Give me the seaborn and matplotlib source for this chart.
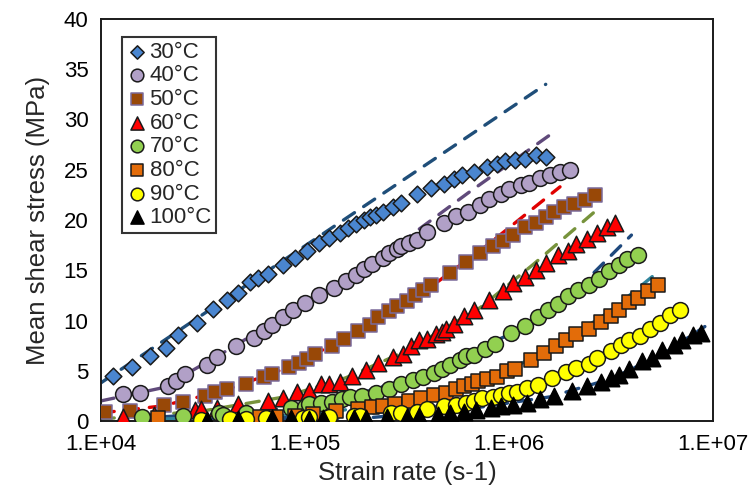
import numpy as np
import matplotlib
matplotlib.use("Agg")
import matplotlib.pyplot as plt
import seaborn as sns

# ======================================
# Data
# strain rate kept as log10 exponent (s-1), stress in MPa
# ======================================

labels = ["30°C", "40°C", "50°C", "60°C", "70°C", "80°C", "90°C", "100°C"]

log_rate_30 = [4.06, 4.15, 4.24, 4.32, 4.38, 4.47, 4.55, 4.62, 4.67, 4.73, 4.77, 4.82, 4.89,
               4.95, 5.01, 5.07, 5.12, 5.17, 5.21, 5.25, 5.29, 5.32, 5.35, 5.38, 5.43, 5.47,
               5.55, 5.62, 5.68, 5.73, 5.77, 5.83, 5.89, 5.94, 5.98, 6.03, 6.08, 6.13, 6.18]
stress_30 = [4.5, 5.4, 6.5, 7.3, 8.6, 9.8, 11.1, 12.0, 12.7, 13.8, 14.2, 14.6, 15.5,
             16.2, 16.9, 17.7, 18.2, 18.7, 19.2, 19.6, 20.0, 20.3, 20.5, 20.8, 21.3, 21.7,
             22.6, 23.2, 23.6, 24.1, 24.5, 24.8, 25.3, 25.6, 25.9, 26.0, 26.1, 26.5, 26.3]

log_rate_40 = [4.11, 4.19, 4.33, 4.37, 4.41, 4.52, 4.57, 4.66, 4.75, 4.80, 4.84, 4.89, 4.94,
               5.00, 5.07, 5.14, 5.20, 5.25, 5.29, 5.33, 5.38, 5.41, 5.45, 5.47, 5.51, 5.55,
               5.60, 5.68, 5.74, 5.80, 5.86, 5.90, 5.96, 6.00, 6.06, 6.10, 6.15, 6.20, 6.25, 6.30]
stress_40 = [2.7, 2.8, 3.5, 4.0, 4.7, 5.6, 6.4, 7.5, 8.3, 9.0, 9.6, 10.3, 11.0,
             11.7, 12.5, 13.2, 13.9, 14.5, 15.1, 15.6, 16.2, 16.7, 17.1, 17.4, 17.7, 18.0,
             18.8, 19.7, 20.4, 20.8, 21.5, 22.1, 22.6, 23.1, 23.5, 23.7, 24.2, 24.5, 24.8, 25.0]

log_rate_50 = [4.02, 4.14, 4.31, 4.40, 4.51, 4.56, 4.62, 4.71, 4.80, 4.84, 4.92, 4.97, 5.01,
               5.05, 5.13, 5.19, 5.26, 5.32, 5.36, 5.41, 5.45, 5.50, 5.54, 5.58, 5.62, 5.71,
               5.79, 5.86, 5.92, 5.97, 6.02, 6.08, 6.13, 6.18, 6.22, 6.27, 6.32, 6.37, 6.42]
stress_50 = [0.9, 1.0, 1.6, 1.9, 2.5, 2.9, 3.2, 3.7, 4.4, 4.7, 5.4, 5.8, 6.2,
             6.7, 7.5, 8.2, 9.0, 9.6, 10.3, 10.9, 11.4, 11.9, 12.5, 13.0, 13.5, 14.7,
             15.8, 16.7, 17.4, 17.9, 18.5, 19.3, 19.7, 20.3, 20.8, 21.3, 21.6, 22.0, 22.5]

log_rate_60 = [4.11, 4.26, 4.46, 4.49, 4.57, 4.67, 4.82, 4.89, 4.96, 5.02, 5.08, 5.12, 5.17,
               5.23, 5.30, 5.36, 5.43, 5.48, 5.52, 5.56, 5.60, 5.64, 5.67, 5.69, 5.73, 5.78,
               5.83, 5.90, 5.97, 6.02, 6.08, 6.13, 6.18, 6.24, 6.29, 6.33, 6.38, 6.43, 6.48, 6.52]
stress_60 = [0.4, 0.6, 1.1, 1.2, 1.3, 1.7, 2.0, 2.3, 2.9, 3.0, 3.7, 3.7, 3.9,
             4.5, 5.1, 5.8, 6.4, 6.7, 7.5, 8.1, 8.2, 8.7, 8.9, 9.2, 9.7, 10.4,
             11.0, 12.0, 12.9, 13.7, 14.3, 15.0, 15.7, 16.5, 16.9, 17.6, 18.1, 18.7, 19.3, 19.7]

log_rate_70 = [4.20, 4.40, 4.58, 4.60, 4.71, 4.93, 5.00, 5.02, 5.08, 5.13, 5.18, 5.22, 5.28,
               5.35, 5.41, 5.47, 5.53, 5.58, 5.63, 5.67, 5.71, 5.76, 5.79, 5.83, 5.88, 5.93,
               6.01, 6.08, 6.14, 6.19, 6.24, 6.29, 6.34, 6.39, 6.44, 6.49, 6.54, 6.58, 6.63]
stress_70 = [0.4, 0.5, 0.8, 0.6, 0.8, 1.3, 1.4, 1.7, 1.8, 1.9, 2.2, 2.4, 2.5,
             2.8, 3.2, 3.7, 4.1, 4.4, 4.8, 5.2, 5.6, 6.1, 6.5, 6.6, 7.2, 7.7,
             8.8, 9.5, 10.3, 11.0, 11.6, 12.4, 13.0, 13.5, 14.1, 14.9, 15.5, 16.1, 16.5]

log_rate_80 = [4.28, 4.78, 4.86, 4.95, 5.04, 5.15, 5.26, 5.33, 5.38, 5.44, 5.51, 5.57, 5.63,
               5.69, 5.74, 5.78, 5.82, 5.85, 5.89, 5.94, 5.99, 6.03, 6.11, 6.17, 6.23, 6.28,
               6.33, 6.39, 6.45, 6.50, 6.54, 6.59, 6.63, 6.68, 6.73]
stress_80 = [0.3, 0.4, 0.4, 0.5, 0.7, 1.0, 1.2, 1.4, 1.5, 1.7, 2.0, 2.3, 2.6,
             2.8, 3.2, 3.5, 3.7, 4.0, 4.2, 4.4, 5.0, 5.2, 6.1, 6.8, 7.5, 8.1,
             8.7, 9.2, 9.9, 10.4, 11.0, 11.8, 12.2, 12.9, 13.5]

log_rate_90 = [4.49, 4.63, 4.71, 4.81, 4.99, 5.02, 5.12, 5.24, 5.27, 5.42, 5.47, 5.55, 5.60,
               5.68, 5.74, 5.79, 5.83, 5.87, 5.92, 5.96, 6.00, 6.04, 6.09, 6.14, 6.21, 6.28,
               6.33, 6.39, 6.43, 6.50, 6.55, 6.59, 6.64, 6.69, 6.74, 6.79, 6.84]
stress_90 = [0.1, 0.2, 0.2, 0.3, 0.3, 0.4, 0.4, 0.5, 0.5, 0.8, 0.8, 0.9, 1.2,
             1.5, 1.6, 1.8, 2.0, 2.3, 2.4, 2.6, 2.8, 2.9, 3.3, 3.6, 4.3, 4.9,
             5.3, 5.7, 6.3, 7.0, 7.6, 8.1, 8.5, 9.2, 9.8, 10.5, 11.0]

log_rate_100 = [4.52, 4.67, 4.84, 4.93, 5.02, 5.09, 5.24, 5.30, 5.40, 5.50, 5.56, 5.65, 5.71,
                5.78, 5.84, 5.91, 5.96, 6.02, 6.09, 6.15, 6.22, 6.31, 6.38, 6.45, 6.50, 6.54,
                6.59, 6.65, 6.70, 6.75, 6.81, 6.85, 6.90, 6.94]
stress_100 = [0.1, 0.2, 0.3, 0.3, 0.2, 0.3, 0.3, 0.3, 0.4, 0.4, 0.5, 0.6, 0.8,
              0.9, 1.1, 1.3, 1.5, 1.6, 1.8, 2.2, 2.5, 3.0, 3.5, 3.9, 4.3, 4.6,
              5.2, 6.0, 6.3, 7.1, 7.6, 8.1, 8.6, 8.8]

# fitted curves (dashed)
fit_log_rate_30 = [4.00, 6.18]
fit_stress_30 = [3.8, 33.5]
fit_log_rate_40 = [4.00, 4.30, 4.60, 5.00, 5.40, 5.80, 6.21]
fit_stress_40 = [2.0, 3.3, 6.8, 11.7, 16.7, 22.7, 28.6]
fit_log_rate_50 = [4.00, 4.30, 4.60, 4.90, 5.20, 5.50, 5.90, 6.25]
fit_stress_50 = [0.8, 1.5, 3.0, 5.2, 8.2, 11.6, 17.6, 23.3]
fit_log_rate_60 = [4.00, 4.50, 4.90, 5.20, 5.50, 5.86, 6.12, 6.43]
fit_stress_60 = [0.2, 1.0, 2.4, 4.3, 7.0, 11.3, 15.6, 21.0]
fit_log_rate_70 = [4.20, 4.80, 5.20, 5.60, 6.00, 6.30, 6.60]
fit_stress_70 = [0.3, 1.0, 2.3, 4.8, 8.6, 12.4, 18.5]
fit_log_rate_80 = [4.30, 5.00, 5.50, 5.90, 6.20, 6.50, 6.74]
fit_stress_80 = [0.2, 0.6, 1.9, 4.3, 7.0, 11.0, 15.0]
fit_log_rate_90 = [4.50, 5.20, 5.70, 6.10, 6.40, 6.65, 6.85]
fit_stress_90 = [0.1, 0.5, 1.6, 3.4, 5.8, 8.8, 11.8]
fit_log_rate_100 = [4.50, 5.30, 5.80, 6.20, 6.50, 6.75, 6.96]
fit_stress_100 = [0.1, 0.3, 1.2, 2.4, 4.2, 6.6, 9.4]

x_ticks = [1e4, 1e5, 1e6, 1e7]
x_tick_labels = ["1.E+04", "1.E+05", "1.E+06", "1.E+07"]
y_ticks = [0, 5, 10, 15, 20, 25, 30, 35, 40]

# ======================================
# Style per series
# ======================================
markers = ["D", "o", "s", "^", "o", "s", "o", "^"]
sizes = [72, 130, 105, 140, 130, 105, 130, 140]
fills = ["#4A86D0", "#B1A0C7", "#984807", "#FF0000", "#92D050", "#E36C09", "#FFFF00", "#000000"]
edges = ["#1A1A1A", "#1A1A1A", "#7A6A9A", "#1A1A1A", "#1A1A1A", "#1A1A1A", "#1A1A1A", "#000000"]
fit_colors = ["#1F4E79", "#604A7B", "#E00000", "#77933C", "#1F497D", "#31859C", "#1F497D", "#1F497D"]

rates = [log_rate_30, log_rate_40, log_rate_50, log_rate_60,
         log_rate_70, log_rate_80, log_rate_90, log_rate_100]
stresses = [stress_30, stress_40, stress_50, stress_60,
            stress_70, stress_80, stress_90, stress_100]
fit_rates = [fit_log_rate_30, fit_log_rate_40, fit_log_rate_50, fit_log_rate_60,
             fit_log_rate_70, fit_log_rate_80, fit_log_rate_90, fit_log_rate_100]
fit_stresses = [fit_stress_30, fit_stress_40, fit_stress_50, fit_stress_60,
                fit_stress_70, fit_stress_80, fit_stress_90, fit_stress_100]

sns.set_style("white")
plt.rcParams["font.family"] = ["Liberation Sans", "DejaVu Sans"]

fig = plt.figure(figsize=(7.49, 4.97), dpi=100)
ax = fig.add_axes([0.1348, 0.1529, 0.8172, 0.8089])
ax.set_xscale("log")

# dashed fits first, under the markers
for i in range(len(labels)):
    sns.lineplot(x=10 ** np.array(fit_rates[i]), y=fit_stresses[i], ax=ax,
                 color=fit_colors[i], lw=2.4, linestyle=(0, (4, 3.3)),
                 dash_capstyle="round", sort=False, estimator=None, zorder=2)

for i in range(len(labels)):
    sns.scatterplot(x=10 ** np.array(rates[i]), y=stresses[i], ax=ax,
                    marker=markers[i], s=sizes[i], color=fills[i],
                    edgecolor=edges[i], linewidth=1.1, label=labels[i], zorder=3 + i)

ax.set_xlim(1e4, 1e7)
ax.set_ylim(0, 40)
ax.set_xticks(x_ticks)
ax.set_xticklabels(x_tick_labels)
ax.xaxis.set_minor_locator(matplotlib.ticker.NullLocator())
ax.set_yticks(y_ticks)

ax.tick_params(axis="both", labelsize=16, colors="#000000", length=6,
               direction="inout", width=1.0, pad=6)
ax.tick_params(axis="both", color="#808080")

for side in ["top", "right", "left", "bottom"]:
    ax.spines[side].set_color("#1A1A1A")
    ax.spines[side].set_linewidth(1.4)
    ax.spines[side].set_visible(True)

ax.set_xlabel("Strain rate (s-1)", fontsize=18.5, labelpad=5)
ax.set_ylabel("Mean shear stress (MPa)", fontsize=18.5, labelpad=10)

leg = ax.legend(loc="upper left", bbox_to_anchor=(0.034, 0.955), fontsize=16,
                frameon=True, fancybox=False, edgecolor="#000000", markerscale=0.8,
                handletextpad=0.05, handlelength=1.0, labelspacing=0.12,
                borderpad=0.2, borderaxespad=0.0)
leg.get_frame().set_linewidth(1.5)

fig.savefig("out.png", dpi=100)
